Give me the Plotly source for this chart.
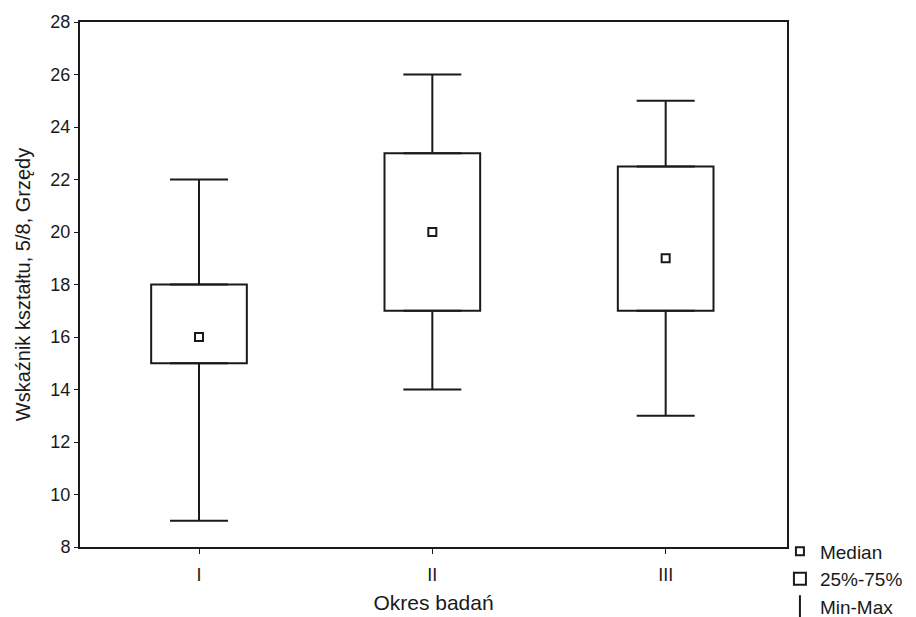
import plotly.graph_objects as go

categories = ["I", "II", "III"]
mins = [9, 14, 13]
q1s = [15, 17, 17]
medians = [16, 20, 19]
q3s = [18, 23, 22.5]
maxs = [22, 26, 25]
y_ticks = [8, 10, 12, 14, 16, 18, 20, 22, 24, 26, 28]

xpos = list(range(len(categories)))
black = "#1a1a1a"
font = "Liberation Sans, Arial, sans-serif"

fig = go.Figure()

# boxes 25%-75%
fig.add_trace(go.Bar(
    x=xpos, y=[b - a for a, b in zip(q1s, q3s)], base=q1s,
    width=0.41, marker=dict(color="white", line=dict(color=black, width=2)),
    name="25%-75%", showlegend=True, legendrank=2, hoverinfo="skip",
))

# upper whiskers
fig.add_trace(go.Scatter(
    x=xpos, y=q3s, mode="markers", marker=dict(size=1, color="rgba(0,0,0,0)"),
    error_y=dict(type="data", symmetric=False,
                 array=[mx - q for mx, q in zip(maxs, q3s)],
                 arrayminus=[0, 0, 0], color=black, thickness=2, width=29),
    showlegend=False, hoverinfo="skip",
))
# lower whiskers
fig.add_trace(go.Scatter(
    x=xpos, y=q1s, mode="markers", marker=dict(size=1, color="rgba(0,0,0,0)"),
    error_y=dict(type="data", symmetric=False,
                 array=[0, 0, 0],
                 arrayminus=[q - mn for mn, q in zip(mins, q1s)],
                 color=black, thickness=2, width=29),
    showlegend=False, hoverinfo="skip",
))

# medians
fig.add_trace(go.Scatter(
    x=xpos, y=medians, mode="markers",
    marker=dict(symbol="square-open", size=8, color=black, line=dict(width=2)),
    name="Median", legendrank=1,
))

# legend entry for Min-Max
fig.add_trace(go.Scatter(
    x=[None], y=[None], mode="markers",
    marker=dict(symbol="line-ns-open", size=16, color=black, line=dict(width=2, color=black)),
    name="Min-Max", legendrank=3,
))

fig.update_layout(
    width=916, height=617,
    margin=dict(l=80, r=129, t=22, b=70, autoexpand=False),
    paper_bgcolor="white", plot_bgcolor="white",
    font=dict(family=font, size=18, color=black),
    barmode="overlay",
    legend=dict(x=0.99, y=0.028, xanchor="left", yanchor="top",
                traceorder="normal", font=dict(size=19),
                itemwidth=30, tracegroupgap=0, bgcolor="rgba(0,0,0,0)"),
    xaxis=dict(
        range=[-0.51, 2.52], tickmode="array", tickvals=xpos, ticktext=categories,
        showline=True, linecolor=black, linewidth=2, mirror=True,
        ticks="outside", ticklen=5, tickcolor=black, showgrid=False, zeroline=False,
        ticklabelstandoff=5, automargin=False, tickfont=dict(size=18),
        title=dict(text="Okres badań", font=dict(size=21), standoff=12),
    ),
    yaxis=dict(
        range=[8, 28], tickmode="array", tickvals=y_ticks,
        showline=True, linecolor=black, linewidth=2, mirror=True,
        ticks="outside", ticklen=4, tickcolor=black, showgrid=False, zeroline=False,
        automargin=False, tickfont=dict(size=18),
        title=dict(text="Wskaźnik kształtu, 5/8, Grzędy", font=dict(size=20), standoff=14),
    ),
)

fig.write_html("out.html", config={"displayModeBar": False},
               post_script="document.body.style.margin='0';document.body.style.overflow='hidden';")
